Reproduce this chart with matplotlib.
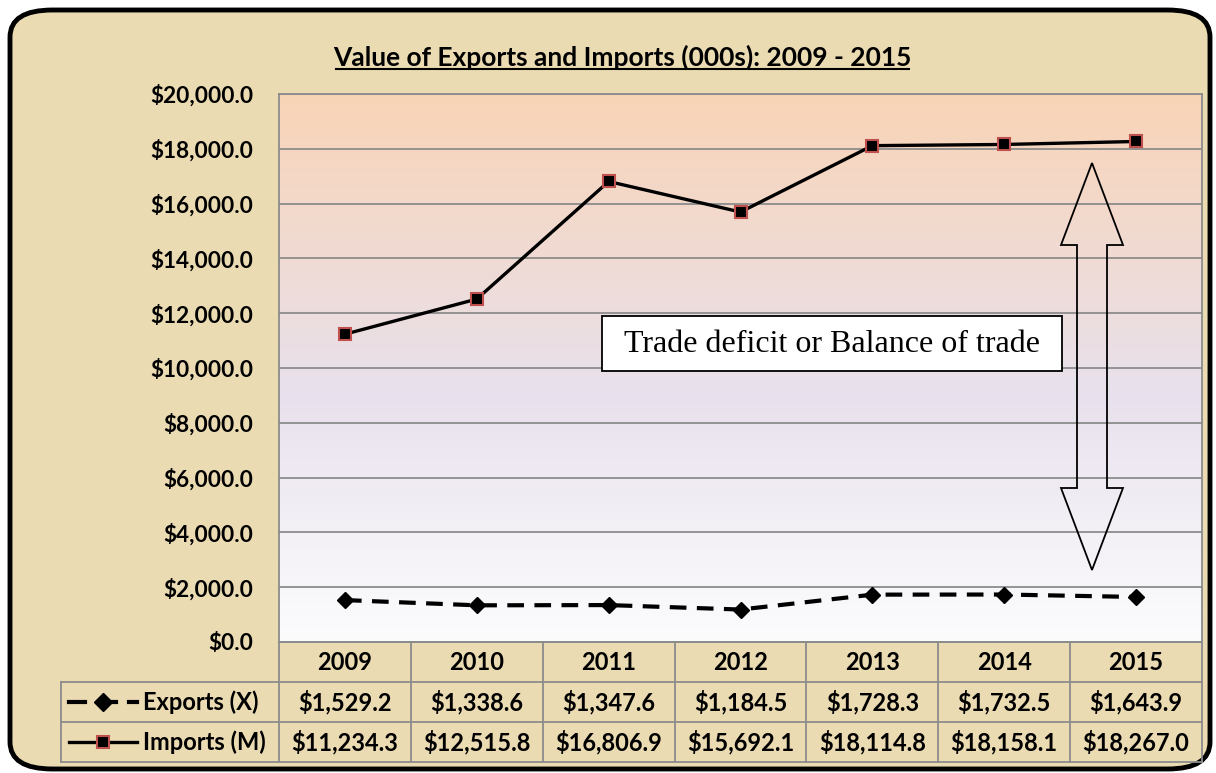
import matplotlib
matplotlib.use("Agg")
import matplotlib.pyplot as plt
import numpy as np
from matplotlib.patches import FancyBboxPatch, Polygon, Rectangle
from matplotlib.lines import Line2D
from matplotlib.colors import LinearSegmentedColormap

years = ["2009", "2010", "2011", "2012", "2013", "2014", "2015"]
exports = [1529.2, 1338.6, 1347.6, 1184.5, 1728.3, 1732.5, 1643.9]
imports = [11234.3, 12515.8, 16806.9, 15692.1, 18114.8, 18158.1, 18267.0]
series_names = ["Exports (X)", "Imports (M)"]
yticks = list(range(0, 20001, 2000))
title = "Value of Exports and Imports (000s): 2009 - 2015"
note = "Trade deficit or Balance of trade"

W, H = 1216, 773
FONT = "Lato"
fig = plt.figure(figsize=(W / 100, H / 100), dpi=100, facecolor="white")

def fx(px):
    return px / W

def fy(py):
    return 1 - py / H

# background parchment with rounded border
bg = FancyBboxPatch((fx(10), fy(769)), fx(1200), fy(10) - fy(769),
                    boxstyle="round,pad=0,rounding_size=0.035",
                    transform=fig.transFigure, facecolor="#ebdbb2",
                    edgecolor="black", linewidth=3.5, zorder=-5)
fig.patches.append(bg)

# plot area
L, R, T, B = 279, 1202, 94, 642
ax = fig.add_axes([fx(L), fy(B), fx(R - L), fy(T) - fy(B)])
ax.set_zorder(1)
ax.set_xlim(-0.5, len(years) - 0.5)
ax.set_ylim(0, 20000)

cmap = LinearSegmentedColormap.from_list(
    "g", [(0.0, "#fcfcfd"), (0.45, "#e8e1ed"), (1.0, "#f9d4b6")])
grad = np.linspace(0, 1, 256).reshape(-1, 1)
ax.imshow(grad, aspect="auto", cmap=cmap, origin="lower",
          extent=[-0.5, len(years) - 0.5, 0, 20000], zorder=0)

for t in yticks:
    ax.axhline(t, color="#8c8c8c", lw=1.3, zorder=1)
for s in ax.spines.values():
    s.set_color("#8c8c8c")
    s.set_linewidth(1.3)

x = np.arange(len(years))
ax.plot(x, exports, color="black", lw=3, ls=(0, (4, 2.5)), marker="D",
        markersize=8, markerfacecolor="black", markeredgecolor="black", zorder=3)
ax.plot(x, imports, color="black", lw=2.4, marker="s", markersize=8,
        markerfacecolor="black", markeredgecolor="#c0504d",
        markeredgewidth=1.5, zorder=3)

ax.set_xticks([])
ax.set_yticks(yticks)
ax.set_yticklabels([f"${v:,.1f}" for v in yticks], fontfamily=FONT,
                   fontweight="bold", fontsize=16.3)
ax.tick_params(axis="y", length=0, pad=18.5)

# title
fig.text(fx(622), fy(57), title, ha="center", va="center", fontfamily=FONT,
         fontweight="bold", fontsize=19)
tw = 573
fig.add_artist(Line2D([fx(622 - tw / 2), fx(622 + tw / 2)], [fy(69), fy(69)],
                      color="black", lw=1.5, transform=fig.transFigure))

# text box
fig.add_artist(Rectangle((fx(602), fy(371)), fx(1062 - 602), fy(316) - fy(371),
                         facecolor="white", edgecolor="black", lw=1.3,
                         transform=fig.transFigure, zorder=5))
fig.text(fx(832), fy(345), note, ha="center", va="center",
         fontfamily="Liberation Serif", fontsize=23, zorder=6)

# double arrow
cx = 1092
hw, sw = 31, 15
top, bot, hl = 163, 570, 82
pts = [(cx, top), (cx + hw, top + hl), (cx + sw, top + hl), (cx + sw, bot - hl),
       (cx + hw, bot - hl), (cx, bot), (cx - hw, bot - hl), (cx - sw, bot - hl),
       (cx - sw, top + hl), (cx - hw, top + hl)]
fig.add_artist(Polygon([(fx(a), fy(b)) for a, b in pts], closed=True,
                       fill=False, edgecolor="black", lw=1.3,
                       transform=fig.transFigure, zorder=4))

# data table
gc = "#8c8c8c"
rows_y = [642, 682, 722, 762]
colw = (R - L) / len(years)
col_x = [L + i * colw for i in range(len(years) + 1)]
LL = 61
def hline(x0, x1, y):
    fig.add_artist(Line2D([fx(x0), fx(x1)], [fy(y), fy(y)], color=gc, lw=1.3,
                          transform=fig.transFigure))
def vline(xp, y0, y1):
    fig.add_artist(Line2D([fx(xp), fx(xp)], [fy(y0), fy(y1)], color=gc, lw=1.3,
                          transform=fig.transFigure))
hline(L, R, rows_y[0])
for yy in rows_y[1:]:
    hline(LL, R, yy)
for xp in col_x:
    vline(xp, rows_y[0], rows_y[3])
vline(LL, rows_y[1], rows_y[3])

tkw = dict(ha="center", va="center", fontfamily=FONT, fontweight="bold",
           fontsize=17)
for i, yr in enumerate(years):
    cxp = (col_x[i] + col_x[i + 1]) / 2
    fig.text(fx(cxp), fy((rows_y[0] + rows_y[1]) / 2), yr, **tkw)
    fig.text(fx(cxp), fy((rows_y[1] + rows_y[2]) / 2), f"${exports[i]:,.1f}", **tkw)
    fig.text(fx(cxp), fy((rows_y[2] + rows_y[3]) / 2), f"${imports[i]:,.1f}", **tkw)

# legend keys in table
ey = (rows_y[1] + rows_y[2]) / 2
iy = (rows_y[2] + rows_y[3]) / 2
def seg(x0, x1, yv, lw=3):
    fig.add_artist(Line2D([fx(x0), fx(x1)], [fy(yv), fy(yv)], color="black",
                          lw=lw, transform=fig.transFigure))
seg(69, 85, ey)
seg(103, 116, ey)
seg(129, 137, ey)
fig.add_artist(Line2D([fx(103)], [fy(ey)], color="black", marker="D",
                      markersize=9, transform=fig.transFigure))
seg(69, 137, iy, lw=2.4)
fig.add_artist(Line2D([fx(103)], [fy(iy)], color="black", marker="s",
                      markersize=8, markerfacecolor="black",
                      markeredgecolor="#c0504d", markeredgewidth=1.5,
                      transform=fig.transFigure))
lkw = dict(ha="left", va="center", fontfamily=FONT, fontweight="bold",
           fontsize=17)
fig.text(fx(143), fy(ey), series_names[0], **lkw)
fig.text(fx(143), fy(iy), series_names[1], **lkw)

fig.savefig("out.png", dpi=100, facecolor="white")
